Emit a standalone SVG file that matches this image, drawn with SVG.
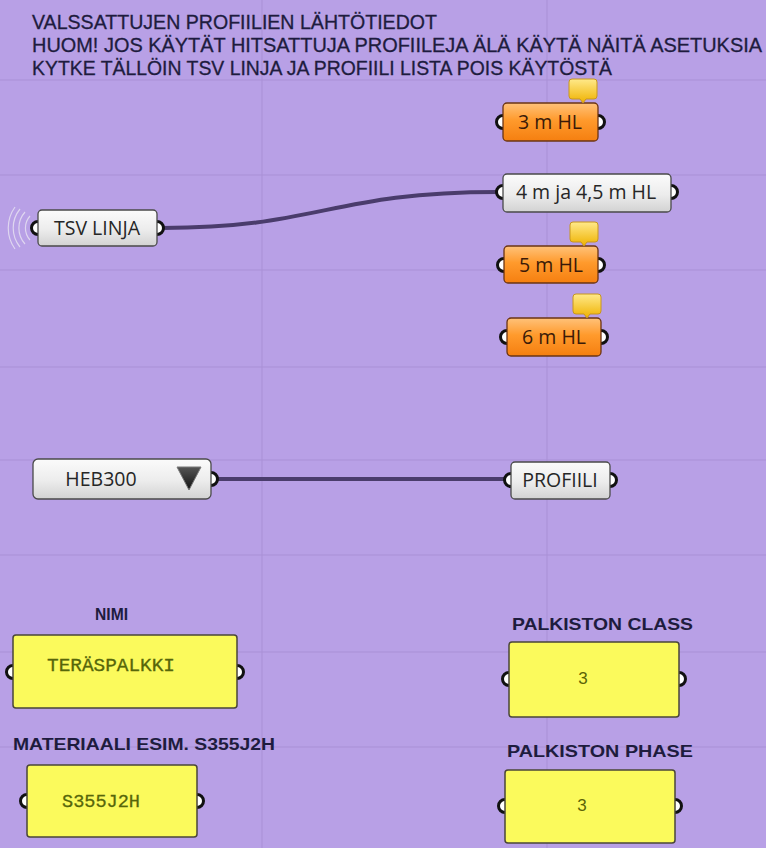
<svg xmlns="http://www.w3.org/2000/svg" width="766" height="848" viewBox="0 0 766 848">
  <defs>
    <linearGradient id="gWhite" x1="0" y1="0" x2="0" y2="1">
      <stop offset="0" stop-color="#fbfbfb"/>
      <stop offset="0.55" stop-color="#ececec"/>
      <stop offset="1" stop-color="#d2d2d2"/>
    </linearGradient>
    <linearGradient id="gOrange" x1="0" y1="0" x2="0" y2="1">
      <stop offset="0" stop-color="#ffc27a"/>
      <stop offset="0.45" stop-color="#ff9a2c"/>
      <stop offset="1" stop-color="#f57f10"/>
    </linearGradient>
    <linearGradient id="gBubble" x1="0" y1="0" x2="0" y2="1">
      <stop offset="0" stop-color="#ffe98a"/>
      <stop offset="1" stop-color="#efb200"/>
    </linearGradient>
    <linearGradient id="gTri" x1="0" y1="0" x2="0" y2="1">
      <stop offset="0" stop-color="#555"/>
      <stop offset="1" stop-color="#111"/>
    </linearGradient>
    <!-- speech bubble shown above flagged parameters -->
    <g id="bubble">
      <path d="M3,0 H25 a3,3 0 0 1 3,3 V17 a3,3 0 0 1 -3,3 H17 L14,24 L11,20 H3 a3,3 0 0 1 -3,-3 V3 a3,3 0 0 1 3,-3 Z" fill="url(#gBubble)" stroke="#c8961e" stroke-width="1"/>
    </g>
  </defs>
  <style>
    .bg { fill: #b8a0e6; }
    .grid { stroke: #a990d6; stroke-width: 1; }
    .title { font-family: "Liberation Sans", Arial, sans-serif; font-size: 20px; fill: #1e1c3e; stroke: #1e1c3e; stroke-width: 0.3; }
    .lbl { font-family: "Liberation Sans", Arial, sans-serif; font-size: 17px; font-weight: bold; fill: #1e1c3e; }
    .white { fill: url(#gWhite); stroke: #4a4a4a; stroke-width: 1.3; }
    .orange { fill: url(#gOrange); stroke: #6b3414; stroke-width: 1.3; }
    .panel { fill: #fbfa5c; stroke: #4a4638; stroke-width: 1.5; }
    .ntxt { font-family: "Open Sans", "Noto Sans", sans-serif; font-size: 19.5px; fill: #262626; text-anchor: middle; }
    .otxt { font-family: "Open Sans", "Noto Sans", sans-serif; font-size: 19.5px; fill: #3a1a08; text-anchor: middle; }
    .ptxt { font-family: "Liberation Mono", "Courier New", monospace; font-size: 19px; fill: #56660a; stroke: #56660a; stroke-width: 0.3; }
    .num { font-family: "Liberation Sans", Arial, sans-serif; font-size: 17px; fill: #5b6206; text-anchor: middle; }
    .nub { fill: #ffffff; stroke: #111111; stroke-width: 3; }
    .wire { fill: none; stroke: #4a3c6c; stroke-width: 4; stroke-linecap: round; }
  </style>

  <!-- canvas -->
  <rect class="bg" x="0" y="0" width="766" height="848"/>
  <g id="grid">
    <line class="grid" x1="262" y1="0" x2="262" y2="848"/>
    <line class="grid" x1="547" y1="0" x2="547" y2="848"/>
    <line class="grid" x1="0" y1="80" x2="766" y2="80"/>
    <line class="grid" x1="0" y1="175" x2="766" y2="175"/>
    <line class="grid" x1="0" y1="270" x2="766" y2="270"/>
    <line class="grid" x1="0" y1="367" x2="766" y2="367"/>
    <line class="grid" x1="0" y1="460" x2="766" y2="460"/>
    <line class="grid" x1="0" y1="555" x2="766" y2="555"/>
    <line class="grid" x1="0" y1="652" x2="766" y2="652"/>
    <line class="grid" x1="0" y1="747" x2="766" y2="747"/>
  </g>

  <!-- heading -->
  <g id="heading">
    <text class="title" x="32" y="29" textLength="405" lengthAdjust="spacingAndGlyphs">VALSSATTUJEN PROFIILIEN LÄHTÖTIEDOT</text>
    <text class="title" x="32" y="52" textLength="730" lengthAdjust="spacingAndGlyphs">HUOM! JOS KÄYTÄT HITSATTUJA PROFIILEJA ÄLÄ KÄYTÄ NÄITÄ ASETUKSIA</text>
    <text class="title" x="32" y="75" textLength="580" lengthAdjust="spacingAndGlyphs">KYTKE TÄLLÖIN TSV LINJA JA PROFIILI LISTA POIS KÄYTÖSTÄ</text>
  </g>

  <!-- connectors -->
  <g id="connectors">
    <path class="wire" d="M162,228 C320,228 330,192 498,192"/>
    <path class="wire" d="M216,479 L507,479"/>
  </g>

  <!-- 3 m HL -->
  <g id="p3m">
    <circle class="nub" cx="503" cy="122" r="6.5"/>
    <circle class="nub" cx="598" cy="122" r="6.5"/>
    <rect class="orange" x="503" y="103" width="95" height="38" rx="4"/>
    <text class="otxt" x="550" y="129">3 m HL</text>
    <use href="#bubble" x="569" y="79"/>
  </g>

  <!-- 4 m ja 4,5 m HL -->
  <g id="p4m">
    <circle class="nub" cx="503" cy="192" r="6.5"/>
    <circle class="nub" cx="671" cy="192" r="6.5"/>
    <rect class="white" x="503" y="174" width="168" height="38" rx="4"/>
    <text class="ntxt" x="586" y="199">4 m ja 4,5 m HL</text>
  </g>

  <!-- 5 m HL -->
  <g id="p5m">
    <circle class="nub" cx="504" cy="265" r="6.5"/>
    <circle class="nub" cx="598" cy="265" r="6.5"/>
    <rect class="orange" x="504" y="246" width="94" height="37" rx="4"/>
    <text class="otxt" x="551" y="272">5 m HL</text>
    <use href="#bubble" x="570" y="222"/>
  </g>

  <!-- 6 m HL -->
  <g id="p6m">
    <circle class="nub" cx="507" cy="337" r="6.5"/>
    <circle class="nub" cx="601" cy="337" r="6.5"/>
    <rect class="orange" x="507" y="318" width="94" height="38" rx="4"/>
    <text class="otxt" x="554" y="344">6 m HL</text>
    <use href="#bubble" x="573" y="294"/>
  </g>

  <!-- TSV LINJA (wireless receiver) -->
  <g id="tsv">
    <g fill="none" stroke="#e6e0f2" stroke-width="1.2" opacity="0.85">
      <path d="M30,216 A18,18 0 0 0 30,240"/>
      <path d="M25,212 A24,24 0 0 0 25,244"/>
      <path d="M20,209 A30,30 0 0 0 20,247"/>
      <path d="M15,207 A36,36 0 0 0 15,249"/>
    </g>
    <circle class="nub" cx="38" cy="228" r="6.5"/>
    <circle class="nub" cx="157" cy="228" r="6.5"/>
    <rect class="white" x="38" y="210" width="119" height="36" rx="4"/>
    <text class="ntxt" x="97" y="235">TSV LINJA</text>
  </g>

  <!-- HEB300 value list -->
  <g id="heb300">
    <circle class="nub" cx="211" cy="479" r="6.5"/>
    <rect class="white" x="33" y="459" width="178" height="40" rx="5"/>
    <text class="ntxt" x="101" y="486">HEB300</text>
    <path d="M177,467 L201,467 L189,490 Z" fill="url(#gTri)" stroke="#777" stroke-width="1" stroke-linejoin="round"/>
  </g>

  <!-- PROFIILI -->
  <g id="profiili">
    <circle class="nub" cx="511" cy="480" r="6.5"/>
    <circle class="nub" cx="610" cy="480" r="6.5"/>
    <rect class="white" x="511" y="462" width="99" height="37" rx="4"/>
    <text class="ntxt" x="560" y="487">PROFIILI</text>
  </g>

  <!-- NIMI panel -->
  <g id="nimi">
    <text class="lbl" x="95" y="620" textLength="33" lengthAdjust="spacingAndGlyphs">NIMI</text>
    <circle class="nub" cx="13" cy="672" r="6.5"/>
    <circle class="nub" cx="237" cy="672" r="6.5"/>
    <rect class="panel" x="13" y="635" width="224" height="73" rx="3"/>
    <text class="ptxt" x="47" y="671" textLength="128" lengthAdjust="spacingAndGlyphs">TERÄSPALKKI</text>
  </g>

  <!-- PALKISTON CLASS panel -->
  <g id="pclass">
    <text class="lbl" x="512" y="630" textLength="181" lengthAdjust="spacingAndGlyphs">PALKISTON CLASS</text>
    <circle class="nub" cx="509" cy="679" r="6.5"/>
    <circle class="nub" cx="679" cy="679" r="6.5"/>
    <rect class="panel" x="509" y="642" width="170" height="75" rx="3"/>
    <text class="num" x="583" y="684">3</text>
  </g>

  <!-- MATERIAALI panel -->
  <g id="materiaali">
    <text class="lbl" x="13" y="750" textLength="262" lengthAdjust="spacingAndGlyphs">MATERIAALI ESIM. S355J2H</text>
    <circle class="nub" cx="27" cy="801" r="6.5"/>
    <circle class="nub" cx="197" cy="801" r="6.5"/>
    <rect class="panel" x="27" y="765" width="170" height="72" rx="3"/>
    <text class="ptxt" x="62" y="807" textLength="78" lengthAdjust="spacingAndGlyphs">S355J2H</text>
  </g>

  <!-- PALKISTON PHASE panel -->
  <g id="pphase">
    <text class="lbl" x="507" y="757" textLength="186" lengthAdjust="spacingAndGlyphs">PALKISTON PHASE</text>
    <circle class="nub" cx="505" cy="806" r="6.5"/>
    <circle class="nub" cx="675" cy="806" r="6.5"/>
    <rect class="panel" x="505" y="770" width="170" height="73" rx="3"/>
    <text class="num" x="582" y="811">3</text>
  </g>
</svg>
